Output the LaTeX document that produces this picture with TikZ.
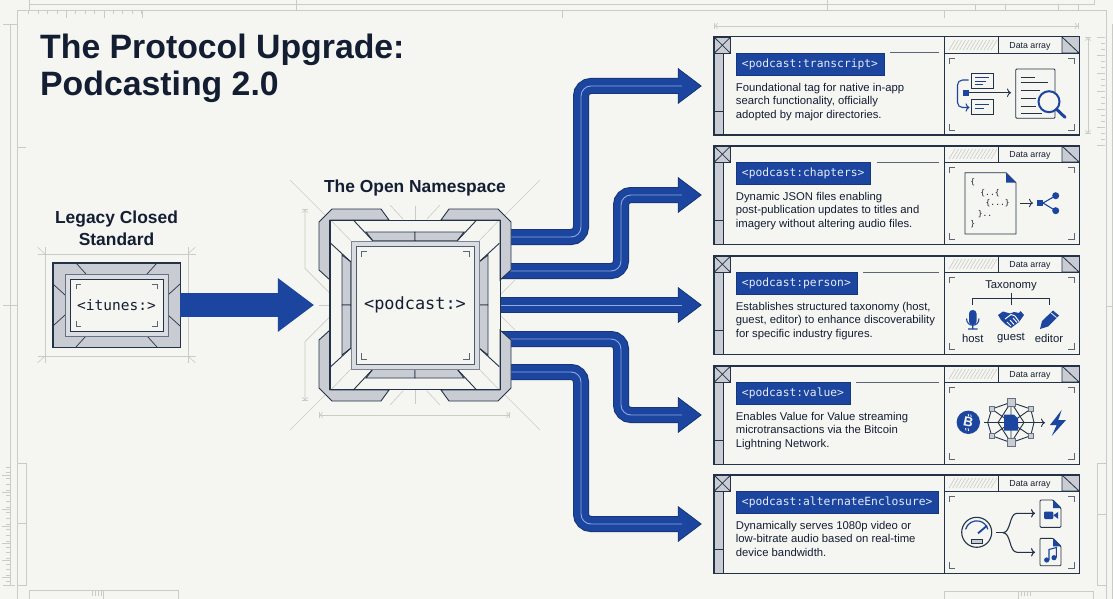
\documentclass[tikz,border=0pt]{standalone}
\usepackage{fontspec}
\usepackage{tikz}
\usetikzlibrary{arrows.meta}
\setmainfont{Liberation Sans}
\newfontfamily\tagfont{DejaVu Sans Mono}
\definecolor{paper}{HTML}{F5F5F1}
\definecolor{inkdark}{HTML}{243247}
\definecolor{textdark}{HTML}{141E33}
\definecolor{flowblue}{HTML}{1B459F}
\definecolor{flowedge}{HTML}{163779}
\definecolor{flowlight}{HTML}{8FAAE0}
\definecolor{panelgray}{HTML}{C9CDD3}
\definecolor{gridgray}{HTML}{CBCBC6}
\definecolor{tagtext}{HTML}{E6EBF5}
\tikzset{
  gridline/.style={draw=gridgray,line width=0.8pt},
  cropline/.style={draw=gridgray,line width=0.6pt},
  dimline/.style={draw=gridgray,line width=0.7pt},
  blockframe/.style={draw=inkdark,line width=1.4pt},
  blockfill/.style={fill=panelgray,draw=inkdark,line width=0.9pt},
  thinink/.style={draw=inkdark,line width=0.8pt},
  graymark/.style={draw=inkdark!75,line width=0.9pt},
  iconink/.style={draw=inkdark,line width=0.9pt},
  iconblue/.style={draw=flowblue,line width=1.1pt},
  heading/.style={font=\bfseries\fontsize{17.4}{22}\selectfont,text=textdark,align=center,inner sep=0pt},
  cardbox/.style={fill=paper,minimum width=365pt,minimum height=98pt,inner sep=0pt},
  tagbox/.style={fill=flowblue,draw=flowedge,line width=0.5pt,text=tagtext,font=\tagfont\fontsize{11.3}{14}\selectfont,anchor=north west,minimum height=22pt,inner xsep=6pt,inner ysep=0pt},
  cardtext/.style={font=\fontsize{11.3}{13.6}\selectfont,text=textdark,align=left,anchor=north west,inner sep=0pt},
  smalltext/.style={font=\fontsize{11.3}{13.6}\selectfont,text=textdark,inner sep=0pt},
  jsontext/.style={font=\tagfont\fontsize{8}{10}\selectfont,text=textdark,inner sep=0pt},
  flowarrow/.style={draw=flowedge,line width=16pt,rounded corners=10pt,
    -{Triangle[length=24pt,width=36pt,fill=flowblue,line width=0.8pt]},shorten >=12pt,
    postaction={draw=flowblue,line width=14pt,-,shorten >=30pt},
    postaction={draw=flowlight,line width=0.9pt,-,shorten >=32pt}},
  bigarrow/.style={draw=flowblue,line width=24pt,
    -{Triangle[length=36pt,width=54pt,fill=flowblue,line width=0pt]},shorten >=16pt}
}
\newcommand{\carditem}[4]{
  \begin{scope}[shift={(714,-#2)}]
    \node[cardbox] (card#1) at (182.5,-49) {};
    \draw[blockfill] (0,-16.5) rectangle (9,-98);
    \draw[thinink] (0,-74) -- (9,-74);
    \draw[blockfill] (0,0) rectangle (16.7,-16.5);
    \draw[thinink] (0,0) -- (16.7,-16.5) (0,-16.5) -- (16.7,0);
    \foreach \hx in {235,238.5,...,278} \draw[cropline] (\hx,-13) -- (\hx+6,-3);
    \draw[thinink] (230,0) -- (230,-98) (230,-16) -- (365,-16) (284,0) -- (284,-16) (348,0) -- (348,-16);
    \draw[blockfill,draw=none] (348,0) rectangle (365,-16);
    \draw[thinink] (348,0) -- (365,-16) (348,0) -- (348,-16) (348,-16) -- (365,-16);
    \node[font=\fontsize{8.8}{10}\selectfont,text=textdark,inner sep=0pt] (data#1) at (316,-9) {Data array};
    \node[tagbox] (tag#1) at (21.7,-16) {#3};
    \node[cardtext] (text#1) at (21.7,-45.8) {#4};
    \draw[graymark] (235,-27) -- (235,-21) -- (241,-21) (354,-21) -- (360,-21) -- (360,-27)
      (235,-87) -- (235,-93) -- (241,-93) (354,-93) -- (360,-93) -- (360,-87);
    \draw[blockframe] (card#1.north west) rectangle (card#1.south east);
  \end{scope}
}
\begin{document}
\begin{tikzpicture}[x=1pt,y=1pt]
\useasboundingbox (0,0) rectangle (1113,-599);
\fill[paper] (0,0) rectangle (1113,-599);
\draw[gridline] (17,-599) -- (17,-10) -- (1106,-10) -- (1106,-599);
\draw[gridline] (29,0) -- (29,-4) -- (1094,-4) -- (1094,0);
\draw[gridline] (296,0) -- (296,-10) (827,0) -- (827,-10) (29,-4) -- (29,-10);
\draw[gridline] (562,-10) -- (562,-18) (944.5,-10) -- (944.5,-18);
\draw[cropline] (975,-4) -- (975,-10) (1005.5,-4) -- (1005.5,-10) (1058,-4) -- (1058,-10) (1078,-4) -- (1078,-10);
\foreach \tx in {28.6,38,...,142} \draw[cropline] (\tx,-10) -- (\tx,-14);
\foreach \tx in {66.4,104.3,141.8} \draw[cropline] (\tx,-10) -- (\tx,-18);
\draw[gridline] (10.7,-24) -- (10.7,-585) (3,-24) -- (17,-24) (17,-147) -- (26,-147) (3,-305) -- (17,-305);
\draw[gridline] (3,-585) -- (15,-585) (1106,-306) -- (1113,-306) (1112,-24) -- (1112,-599);
\draw[cropline] (17,-463) -- (26,-463) -- (26,-585) -- (17,-585) (17,-523) -- (26,-523);
\foreach \ty in {-467,-472.7,...,-581} \draw[cropline] (5.5,\ty) -- (10.7,\ty);
\foreach \ty in {-475,-492,...,-581} \draw[cropline] (2,\ty) -- (10.7,\ty);
\draw[cropline] (29,-599) -- (29,-590) -- (178.5,-590) -- (178.5,-599) (103.6,-590) -- (103.6,-599);
\draw[cropline] (944.5,-599) -- (944.5,-591) -- (1093,-591) -- (1093,-599) (1018.5,-591) -- (1018.5,-599);
\foreach \tx in {92,95,98,101} \draw[cropline] (\tx,-590) -- (\tx,-596);
\foreach \tx in {1021,1024,1027,1030} \draw[cropline] (\tx,-591) -- (\tx,-596);
\draw[cropline] (1106,-463) -- (1097,-463) -- (1097,-585) -- (1106,-585) (1097,-514) -- (1106,-514);
\foreach \ty in {-37,-43,...,-147} \draw[cropline] (1101,\ty) -- (1105,\ty);
\foreach \ty in {-37,-55,...,-147} \draw[cropline] (1097,\ty) -- (1105,\ty);
\draw[dimline,{Bar[width=6pt]To[length=3pt]}-{To[length=3pt]Bar[width=6pt]}] (1088,-37) -- (1088,-134);
\draw[dimline,{Bar[width=6pt]To[length=3pt]}-{To[length=3pt]Bar[width=6pt]}] (714,-26) -- (1078.5,-26);
\node[anchor=north west,inner sep=0pt,align=left,text=textdark,font=\bfseries\fontsize{33.8}{37}\selectfont] (title) at (40,-33.5) {The Protocol Upgrade:\\Podcasting 2.0};
\node[heading] (legacylabel) at (116.5,-228) {Legacy Closed\\Standard};
\node[heading] (hublabel) at (415,-188) {The Open Namespace};
\begin{scope}[shift={(116.5,-305)}]
  \draw[cropline] (-79,51) -- (79,51) (-79,-51) -- (79,-51) (-71.5,58) -- (-71.5,-58) (71.5,58) -- (71.5,-58);
  \draw[cropline] (-79,58) -- (-71.5,51) (79,58) -- (71.5,51) (-79,-58) -- (-71.5,-51) (79,-58) -- (71.5,-51);
\end{scope}
\node[fill=panelgray,minimum width=127pt,minimum height=84pt,inner sep=0pt] (legacy) at (116.5,-305) {};
\begin{scope}[shift={(116.5,-305)}]
  \foreach \sx/\sy in {1/1,-1/1,1/-1,-1/-1}
    \draw[inkdark,line width=0.7pt,xscale=\sx,yscale=\sy] (-40.5,42) -- (-30.5,31) (-63.5,21) -- (-51.5,10);
  \draw[fill=panelgray!70,draw=inkdark!70,line width=0.8pt] (-51.5,31) rectangle (51.5,-31);
  \draw[fill=paper,draw=inkdark,line width=0.8pt] (-46.5,26) rectangle (46.5,-26);
  \foreach \sx/\sy in {1/1,-1/1,1/-1,-1/-1}
    \draw[graymark,xscale=\sx,yscale=\sy] (-40.5,16) -- (-40.5,21) -- (-35.5,21);
\end{scope}
\draw[blockframe] (legacy.north west) rectangle (legacy.south east);
\node[font=\tagfont\fontsize{14.5}{16}\selectfont,text=textdark,inner sep=0pt] (legacytag) at (116.5,-305.5) {<itunes:>};
\begin{scope}[shift={(415,-305)}]
  \foreach \sx/\sy in {1/1,-1/1,1/-1,-1/-1}
    \draw[cropline,xscale=\sx,yscale=\sy] (-125,125) -- (-90,90) (-25,100) -- (-11.7,85.7);
  \draw[cropline] (0,99) -- (0,85) (0,-99) -- (0,-85) (-96,0) -- (-85,0);
  \draw[dimline,{Bar[width=6pt]To[length=3pt]}-] (-110,96) -- (-110,36.7) -- (-85,11.7);
  \draw[dimline,{Bar[width=6pt]To[length=3pt]}-] (-110,-96) -- (-110,-36.7) -- (-85,-11.7);
  \draw[dimline,{Bar[width=6pt]To[length=3pt]}-{To[length=3pt]Bar[width=6pt]}] (-96,-110) -- (95,-110);
  \draw[cropline] (85,10) -- (100,25) (85,-10) -- (100,-25);
\end{scope}
\node[fill=paper,minimum width=170pt,minimum height=169pt,inner sep=0pt] (hub) at (415,-305) {};
\carditem{transcript}{37}{<podcast:transcript>}{Foundational tag for native in-app\\search functionality, officially\\adopted by major directories.}
\carditem{chapters}{146}{<podcast:chapters>}{Dynamic JSON files enabling\\post-publication updates to titles and\\imagery without altering audio files.}
\carditem{person}{256}{<podcast:person>}{Establishes structured taxonomy (host,\\guest, editor) to enhance discoverability\\for specific industry figures.}
\carditem{value}{366}{<podcast:value>}{Enables Value for Value streaming\\microtransactions via the Bitcoin\\Lightning Network.}
\carditem{enclosure}{475}{<podcast:alternateEnclosure>}{Dynamically serves 1080p video or\\low-bitrate audio based on real-time\\device bandwidth.}
\draw[graymark,line width=1pt] ([xshift=6pt]tagtranscript.north east) -- (tagtranscript.north -| tagenclosure.east);
\draw[graymark,line width=1pt] ([xshift=6pt]tagchapters.north east) -- (tagchapters.north -| tagenclosure.east);
\draw[graymark,line width=1pt] ([xshift=6pt]tagperson.north east) -- (tagperson.north -| tagenclosure.east);
\draw[graymark,line width=1pt] ([xshift=6pt]tagvalue.north east) -- (tagvalue.north -| tagenclosure.east);
\draw[flowarrow] ([yshift=68pt]hub.east) -- (581,-237) -- (581,-86) -- (cardtranscript.west);
\draw[flowarrow] ([yshift=34pt]hub.east) -- (621,-271) -- (621,-195) -- (cardchapters.west);
\draw[flowarrow] (hub.east) -- (cardperson.west);
\draw[flowarrow] ([yshift=-34pt]hub.east) -- (621,-339) -- (621,-415) -- (cardvalue.west);
\draw[flowarrow] ([yshift=-67pt]hub.east) -- (581,-372) -- (581,-524) -- (cardenclosure.west);
\draw[bigarrow] (legacy.east) -- (hub.west);
\begin{scope}[shift={(415,-305)}]
  \foreach \sx/\sy in {1/1,-1/1,1/-1,-1/-1}{
    \begin{scope}[xscale=\sx,yscale=\sy]
      \draw[blockfill] (-26,85) -- (-34,96) -- (-83,96) -- (-96,83) -- (-96,35) -- (-85,25) -- (-85,85) -- cycle;
      \draw[blockfill] (-49,73) -- (0,73) -- (0,64.3) -- (-42.3,64.3) -- cycle;
      \draw[blockfill] (-73,50) -- (-73,0) -- (-64.3,0) -- (-64.3,43.3) -- cycle;
      \draw[thinink,line width=0.9pt] (-61.7,85) -- (-42.3,64.3) (-84.3,61.7) -- (-64.3,43.3);
      \draw[cropline] (-84.3,85) -- (-64.3,64.3);
    \end{scope}
  }
  \draw[fill=panelgray!70,draw=inkdark!60,line width=0.9pt] (-64,64) rectangle (64,-64);
  \draw[fill=paper,draw=inkdark!80,line width=0.9pt] (-59,59) rectangle (59,-59);
  \foreach \sx/\sy in {1/1,-1/1,1/-1,-1/-1}
    \draw[graymark,xscale=\sx,yscale=\sy] (-54,48) -- (-54,54) -- (-48,54);
\end{scope}
\draw[blockframe] (hub.north west) rectangle (hub.south east);
\node[font=\tagfont\fontsize{16.9}{18}\selectfont,text=textdark,inner sep=0pt] (hubtag) at (415,-305) {<podcast:>};
\draw[iconink] (971.7,-73.3) rectangle (993.3,-88.3) (971.7,-99.3) rectangle (993.3,-114);
\draw[iconink,draw=flowblue!70!inkdark] (975,-77.5) -- (989,-77.5) (975,-81) -- (986,-81) (975,-84.5) -- (983,-84.5) (975,-104) -- (989,-104) (975,-108) -- (984,-108);
\fill[flowblue] (962.7,-89.7) rectangle (968.7,-95.7);
\draw[iconink,-{To[length=4pt]}] (968.7,-92.7) -- (1011,-92.7);
\draw[iconblue,rounded corners=5pt,-{To[length=4pt]}] (968.5,-80) -- (957.5,-80) -- (957.5,-107.5) -- (969.5,-107.5);
\draw[iconink,rounded corners=1pt,fill=paper] (1015.7,-69) rectangle (1055,-118.3);
\draw[iconink] (1021,-77) -- (1035,-77) (1021,-82.5) -- (1048,-82.5) (1021,-90) -- (1040,-90) (1021,-98.5) -- (1036,-98.5) (1021,-106.5) -- (1036,-106.5) (1021,-113) -- (1042,-113);
\draw[draw=flowblue,line width=2pt,fill=paper] (1049,-101.7) circle (10.5);
\draw[draw=flowblue,line width=3pt,line cap=round] (1056.5,-109.2) -- (1065,-117.3);
\draw[iconink,fill=paper] (965,-172.7) -- (1006,-172.7) -- (1016,-182.7) -- (1016,-234) -- (965,-234) -- cycle;
\fill[flowblue] (1006,-172.7) -- (1016,-182.7) -- (1006,-182.7) -- cycle;
\node[jsontext] (jsonA) at (972.7,-182) {\{};
\node[jsontext] (jsonB) at (990,-193) {\{..\{};
\node[jsontext] (jsonC) at (997.7,-203) {\{...\}};
\node[jsontext] (jsonD) at (985,-214) {\}..};
\node[jsontext] (jsonE) at (972.7,-224) {\}};
\draw[iconink,-{To[length=4pt]}] (1020,-203) -- (1033,-203);
\fill[flowblue] (1036.7,-199.7) rectangle (1043.3,-206.3);
\draw[iconblue] (1055.7,-195.7) -- (1043,-203) -- (1055.7,-210.7);
\fill[flowblue] (1055.7,-195.7) circle (3.5) (1055.7,-210.7) circle (3.5);
\node[smalltext] (taxlabel) at (1011,-286) {Taxonomy};
\draw[iconink] (972.7,-305) -- (972.7,-298) -- (1049,-298) -- (1049,-305) (1011,-293) -- (1011,-305);
\fill[flowblue,rounded corners=3.5pt] (969,-310) rectangle (976.5,-325);
\draw[iconblue] (966.5,-318.5) .. controls (966.5,-327.5) and (979,-327.5) .. (979,-318.5) (972.7,-325) -- (972.7,-329) (968,-329) -- (977.5,-329);
\fill[flowblue] (998,-315) -- (1003,-311.5) -- (1010,-313.5) -- (1014,-312) -- (1019,-313) -- (1020.5,-311) -- (1024,-315) -- (1019,-322) -- (1011,-328) -- (1005,-324) -- (1001,-320) -- cycle;
\draw[paper,line width=1pt] (1005,-319) -- (1011,-314.5) -- (1015,-316) -- (1019,-321.5) (1007,-322) -- (1011,-326) (1010,-320) -- (1014,-324.5) (1013,-318) -- (1017,-322.5);
\fill[flowblue] (1040,-329) -- (1042,-321) -- (1053,-310.5) -- (1059,-315.5) -- (1048,-326.5) -- cycle;
\draw[paper,line width=0.8pt] (1050.5,-312.5) -- (1056.5,-317.5);
\node[smalltext] (hostlabel) at (972.7,-338) {host};
\node[smalltext] (guestlabel) at (1011,-338) {guest};
\node[smalltext] (editorlabel) at (1049,-338) {editor};
\fill[flowblue] (968.3,-422.3) circle (11.7);
\node[text=paper,font=\bfseries\fontsize{13.5}{14}\selectfont,rotate=-12,inner sep=0pt] (coinB) at (968.3,-422.3) {B};
\draw[paper,line width=0.8pt] (968.2,-414) -- (968.8,-416.5) (970.7,-414.5) -- (971.2,-416.8) (965.5,-428) -- (966,-430.5) (968,-428.3) -- (968.6,-430.8);
\draw[iconink] (991.7,-409) -- (1011,-402.3) -- (1030.7,-409) -- (1011,-422.7) -- (991.7,-409);
\draw[iconink] (991.7,-435.7) -- (1011,-442.7) -- (1030.7,-435.7) -- (1011,-422.7) -- (991.7,-435.7);
\draw[iconink] (1011,-402.3) -- (1011,-442.7) (1011,-402.3) -- (998,-422.5) -- (1011,-442.7) (1011,-402.3) -- (1024,-422.5) -- (1011,-442.7);
\draw[iconink] (991.7,-409) -- (987.7,-422.5) -- (991.7,-435.7) (1030.7,-409) -- (1034,-422.5) -- (1030.7,-435.7);
\draw[iconink] (984,-422.7) -- (1004,-422.7);
\draw[iconink,-{To[length=4pt]}] (1018,-422.7) -- (1045,-422.7);
\draw[fill=panelgray,draw=inkdark!70,line width=0.6pt] (1007,-398.3) rectangle (1015,-406.3) (1007,-438.7) rectangle (1015,-446.7);
\draw[fill=panelgray,draw=inkdark!70,line width=0.6pt] (989.2,-406.5) rectangle (994.2,-411.5) (1028.2,-406.5) rectangle (1033.2,-411.5) (989.2,-433.2) rectangle (994.2,-438.2) (1028.2,-433.2) rectangle (1033.2,-438.2);
\fill[flowblue] (1004,-414.7) -- (1014,-414.7) -- (1018,-418.7) -- (1018,-430.7) -- (1004,-430.7) -- cycle;
\fill[flowblue] (1061.7,-410) -- (1050,-425) -- (1056.7,-425) -- (1051.7,-436) -- (1066,-420) -- (1058.3,-420) -- cycle;
\draw[inkdark,line width=1.1pt] (976.7,-532.3) circle (15);
\draw[flowblue,line width=1.2pt] (976.7,-532.3) ++(165:11.5) arc[start angle=165,end angle=15,radius=11.5];
\draw[flowblue,line width=1.8pt] (978,-533.3) -- (987,-525.7);
\draw[fill=panelgray,draw=inkdark,line width=0.7pt] (971.7,-539) rectangle (982.7,-543.3);
\draw[iconink,line width=1.1pt] (996,-532.7) -- (1003,-532.7);
\draw[iconink,line width=1.1pt,-{To[length=4pt]}] (1003,-532.7) .. controls (1011,-532.7) and (1009,-513.3) .. (1017,-513.3) -- (1035,-513.3);
\draw[iconink,line width=1.1pt,-{To[length=4pt]}] (1003,-532.7) .. controls (1011,-532.7) and (1009,-552.3) .. (1017,-552.3) -- (1035,-552.3);
\draw[iconink,rounded corners=1pt,fill=paper] (1040,-500) -- (1053,-500) -- (1061,-508) -- (1061,-527.3) -- (1040,-527.3) -- cycle;
\fill[flowblue] (1053,-500) -- (1061,-508) -- (1053,-508) -- cycle;
\fill[flowblue,rounded corners=1pt] (1044,-511.7) rectangle (1053.3,-519);
\fill[flowblue] (1053.3,-515.3) -- (1058,-512) -- (1058,-518.8) -- cycle;
\draw[iconink,rounded corners=1pt,fill=paper] (1040,-538.3) -- (1053,-538.3) -- (1061,-546.3) -- (1061,-565.7) -- (1040,-565.7) -- cycle;
\fill[flowblue] (1053,-538.3) -- (1061,-546.3) -- (1053,-546.3) -- cycle;
\fill[flowblue] (1046.7,-560) circle (2.6) (1054,-557.7) circle (2.6);
\draw[flowblue,line width=1.1pt] (1049,-560) -- (1049,-549.5) -- (1056.4,-547.5) -- (1056.4,-557.7);
\end{tikzpicture}
\end{document}
